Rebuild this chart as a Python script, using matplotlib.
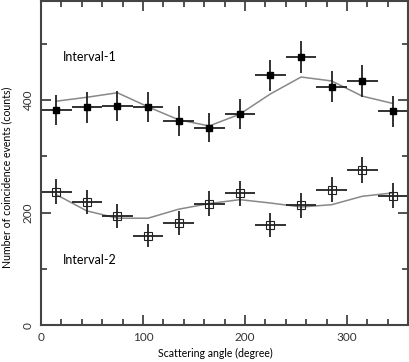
import matplotlib.pyplot as plt
import numpy as np

plt.rcParams['font.family'] = ['Lato', 'DejaVu Sans']

angles = [15, 45, 75, 105, 135, 165, 195, 225, 255, 285, 315, 345]
bin_half = 15

int1_counts = [382, 387, 389, 388, 363, 351, 375, 444, 477, 424, 434, 380]
int1_err = [27, 27, 27, 27, 26, 26, 27, 28, 28, 28, 28, 27]
int1_model = [398, 405, 413, 388, 365, 354, 375, 411, 441, 434, 407, 394]

int2_counts = [237, 219, 194, 159, 181, 216, 234, 178, 213, 241, 275, 230]
int2_err = [22, 21, 21, 21, 21, 22, 22, 21, 22, 22, 23, 22]
int2_model = [232, 203, 190, 190, 206, 216, 223, 217, 210, 214, 229, 235]

fig = plt.figure(figsize=(4.09, 3.62), dpi=100)
ax = fig.add_axes([0.1, 0.102, 0.898, 0.895])

ax.plot(angles, int1_model, color='#888888', lw=1.1)
ax.plot(angles, int2_model, color='#888888', lw=1.1)

ax.errorbar(angles, int1_counts, xerr=bin_half, yerr=int1_err, fmt='s', color='black',
            ms=5, ecolor='#222222', elinewidth=1.3, capsize=0)
ax.errorbar(angles, int2_counts, xerr=bin_half, yerr=int2_err, fmt='s', color='black',
            mfc='none', mec='#222222', mew=0.8, ms=5.5, ecolor='#222222', elinewidth=1.3, capsize=0)

ax.text(22, 476, 'Interval-1', fontsize=9, va='center')
ax.text(22, 115, 'Interval-2', fontsize=9, va='center')

ax.set_xlim(0, 360)
ax.set_ylim(0, 576)
ax.set_xticks([0, 100, 200, 300])
ax.set_xticks(np.arange(0, 361, 20), minor=True)
ax.set_yticks([0, 200, 400])
ax.set_yticks([100, 300, 500], minor=True)
ax.tick_params(which='both', direction='in', top=True, right=True, labelsize=8.5, colors='#333333', width=1.2)
ax.tick_params(which='major', length=7, pad=5)
ax.tick_params(which='minor', length=4)
for lab in ax.get_yticklabels():
    lab.set_rotation(90)
    lab.set_va('center')
for sp in ax.spines.values():
    sp.set_linewidth(1.5)
    sp.set_color('#444444')

ax.set_xlabel('Scattering angle (degree)', fontsize=7.6, va='center')
ax.set_ylabel('Number of coincidence events (counts)', fontsize=7.6, va='center')
ax.xaxis.set_label_coords(0.476, -0.087)
ax.yaxis.set_label_coords(-0.093, 0.455)

fig.savefig('out.png', dpi=100)
